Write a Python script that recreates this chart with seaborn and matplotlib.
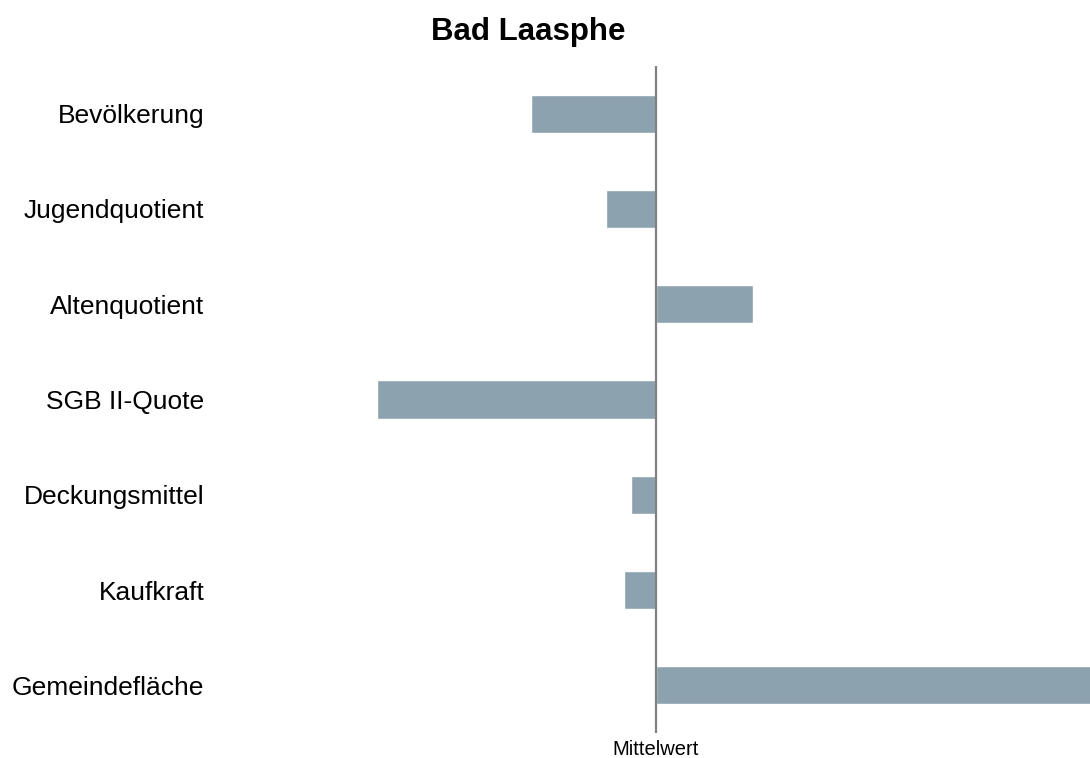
import numpy as np
import pandas as pd
import matplotlib
matplotlib.use("Agg")
import matplotlib.pyplot as plt
import seaborn as sns

# Data: deviation from the mean (Mittelwert)
indicators = ["Bevölkerung", "Jugendquotient", "Altenquotient", "SGB II-Quote",
              "Deckungsmittel", "Kaufkraft", "Gemeindefläche"]
deviation = [-1.25, -0.50, 0.97, -2.79, -0.25, -0.32, 4.60]
x_range = [-4.46, 4.34]

bar_color = "#8CA3AF"

sns.set_theme(style="white")
plt.rcParams["font.family"] = ["Liberation Sans", "DejaVu Sans"]

df = pd.DataFrame({"indicator": indicators, "value": deviation})

fig = plt.figure(figsize=(10.9, 7.58), dpi=100)
ax = fig.add_axes([210 / 1090, 1 - 733 / 758, 880 / 1090, 667 / 758])

sns.barplot(data=df, x="value", y="indicator", orient="h", color=bar_color,
            width=0.4, saturation=1, ax=ax)

# Mean line
ax.axvline(0, color="#808080", lw=1.6, zorder=3)

ax.set_xlim(x_range)
ax.set_ylim(6.5, -0.5)
ax.set_xlabel("")
ax.set_ylabel("")
ax.set_xticks([0])
ax.set_xticklabels(["Mittelwert"], fontsize=14.5, color="#000000")
ax.tick_params(axis="x", length=0, pad=5)
ax.tick_params(axis="y", length=0, pad=4, labelsize=19)
for lbl in ax.get_yticklabels():
    lbl.set_color("#000000")
for s in ax.spines.values():
    s.set_visible(False)

fig.text(528 / 1090, 1 - 32 / 758, "Bad Laasphe", ha="center", va="center",
         fontsize=22.5, fontweight="bold", color="#000000")

fig.savefig("out.png", dpi=100)
